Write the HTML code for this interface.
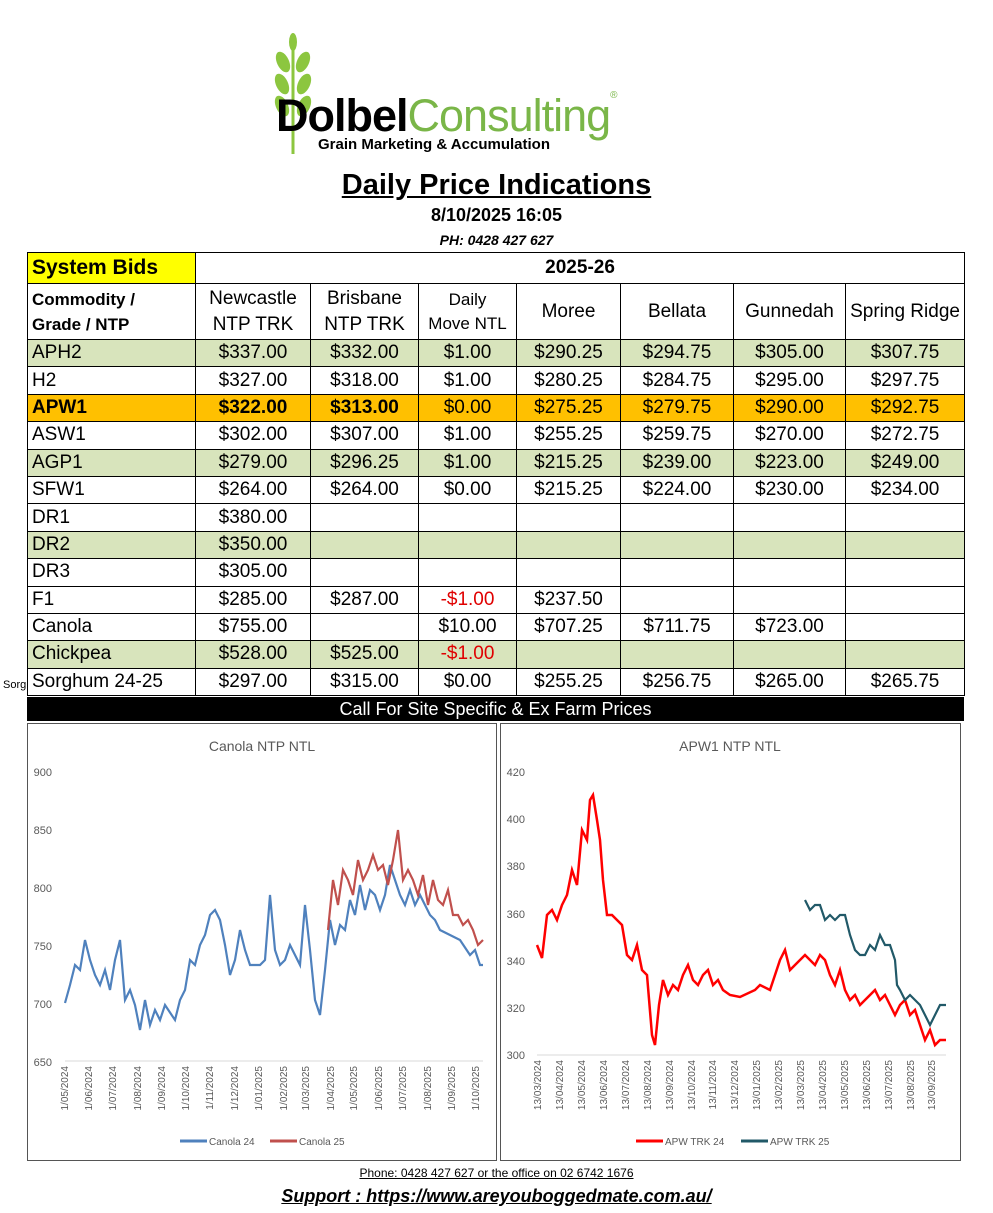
<!DOCTYPE html><html><head><meta charset="utf-8"><style>
body{margin:0;width:993px;height:1213px;background:#fff;font-family:"Liberation Sans",sans-serif;position:relative;overflow:hidden}
.a{position:absolute}
table{position:absolute;left:27px;top:252px;border-collapse:collapse;width:937px;table-layout:fixed}
td{border:1px solid #000;font-size:19px;text-align:center;padding:0;height:26.4px;white-space:nowrap;overflow:hidden}
td:first-child{text-align:left;padding-left:4px}
tr.g td{background:#d8e4bc}
tr.o td{background:#ffc000;font-weight:bold}
tr.o td:nth-child(n+4){font-weight:normal}
.r{color:#e00000}
svg text{font-family:"Liberation Sans",sans-serif}
</style></head><body>
<svg class="a" style="left:268px;top:32px" width="50" height="125"><line x1="25" y1="10" x2="25" y2="122" stroke="#8cc63f" stroke-width="3"/>
<g fill="#8cc63f"><ellipse cx="25" cy="10" rx="4" ry="9"/><ellipse cx="15" cy="30" rx="6" ry="11" transform="rotate(-25 15 30)"/><ellipse cx="35" cy="30" rx="6" ry="11" transform="rotate(25 35 30)"/><ellipse cx="14" cy="52" rx="6" ry="11" transform="rotate(-25 14 52)"/><ellipse cx="36" cy="52" rx="6" ry="11" transform="rotate(25 36 52)"/><ellipse cx="14" cy="74" rx="6" ry="11" transform="rotate(-25 14 74)"/><ellipse cx="36" cy="74" rx="6" ry="11" transform="rotate(25 36 74)"/></g></svg>
<div class="a" style="left:276px;top:90px;font-size:45px;letter-spacing:-1px"><b>Dolbel</b><span style="color:#7ab648">Consulting</span><span style="font-size:10px;color:#7ab648;vertical-align:top">®</span></div>
<div class="a" style="left:318px;top:136px;font-size:15px;font-weight:bold">Grain Marketing &amp; Accumulation</div>
<div class="a" style="left:0;width:993px;top:169px;text-align:center;font-size:29px;font-weight:bold"><u>Daily Price Indications</u></div>
<div class="a" style="left:0;width:993px;top:205px;text-align:center;font-size:18px;font-weight:bold">8/10/2025 16:05</div>
<div class="a" style="left:0;width:993px;top:232px;text-align:center;font-size:14px;font-weight:bold;font-style:italic">PH: 0428 427 627</div>
<table>
<colgroup><col style="width:168px"><col style="width:115px"><col style="width:108px"><col style="width:98px"><col style="width:104px"><col style="width:113px"><col style="width:112px"><col style="width:119px"></colgroup>
<tr><td style="background:#ff0;font-weight:bold;font-size:21px;height:30px">System Bids</td><td colspan="7" style="font-weight:bold">2025-26</td></tr>
<tr style="height:56px"><td style="font-weight:bold;font-size:17px;line-height:25px">Commodity /<br>Grade / NTP</td><td style="line-height:26px">Newcastle<br>NTP TRK</td><td style="line-height:26px">Brisbane<br>NTP TRK</td><td style="font-size:17px;line-height:24px">Daily<br>Move NTL</td><td>Moree</td><td>Bellata</td><td>Gunnedah</td><td>Spring Ridge</td></tr>
<tr class="g"><td>APH2</td><td>$337.00</td><td>$332.00</td><td>$1.00</td><td>$290.25</td><td>$294.75</td><td>$305.00</td><td>$307.75</td></tr>
<tr><td>H2</td><td>$327.00</td><td>$318.00</td><td>$1.00</td><td>$280.25</td><td>$284.75</td><td>$295.00</td><td>$297.75</td></tr>
<tr class="o"><td>APW1</td><td>$322.00</td><td>$313.00</td><td>$0.00</td><td>$275.25</td><td>$279.75</td><td>$290.00</td><td>$292.75</td></tr>
<tr><td>ASW1</td><td>$302.00</td><td>$307.00</td><td>$1.00</td><td>$255.25</td><td>$259.75</td><td>$270.00</td><td>$272.75</td></tr>
<tr class="g"><td>AGP1</td><td>$279.00</td><td>$296.25</td><td>$1.00</td><td>$215.25</td><td>$239.00</td><td>$223.00</td><td>$249.00</td></tr>
<tr><td>SFW1</td><td>$264.00</td><td>$264.00</td><td>$0.00</td><td>$215.25</td><td>$224.00</td><td>$230.00</td><td>$234.00</td></tr>
<tr><td>DR1</td><td>$380.00</td><td></td><td></td><td></td><td></td><td></td><td></td></tr>
<tr class="g"><td>DR2</td><td>$350.00</td><td></td><td></td><td></td><td></td><td></td><td></td></tr>
<tr><td>DR3</td><td>$305.00</td><td></td><td></td><td></td><td></td><td></td><td></td></tr>
<tr><td>F1</td><td>$285.00</td><td>$287.00</td><td class="r">-$1.00</td><td>$237.50</td><td></td><td></td><td></td></tr>
<tr><td>Canola</td><td>$755.00</td><td></td><td>$10.00</td><td>$707.25</td><td>$711.75</td><td>$723.00</td><td></td></tr>
<tr class="g"><td>Chickpea</td><td>$528.00</td><td>$525.00</td><td class="r">-$1.00</td><td></td><td></td><td></td><td></td></tr>
<tr><td>Sorghum 24-25</td><td>$297.00</td><td>$315.00</td><td>$0.00</td><td>$255.25</td><td>$256.75</td><td>$265.00</td><td>$265.75</td></tr>
</table>
<div class="a" style="left:3px;top:679px;font-size:11px">Sorg</div>
<div class="a" style="left:27px;top:697px;width:937px;height:24px;background:#000;color:#fff;text-align:center;font-size:18px;line-height:24px">Call For Site Specific &amp; Ex Farm Prices</div>
<svg class="a" style="left:0;top:0" width="993" height="1213" font-size="11" fill="#595959">
<rect x="27.5" y="723.5" width="469" height="437" fill="none" stroke="#555"/>
<rect x="500.5" y="723.5" width="460" height="437" fill="none" stroke="#555"/>
<text x="262" y="751" text-anchor="middle" font-size="14">Canola NTP NTL</text>
<text x="730" y="751" text-anchor="middle" font-size="14">APW1 NTP NTL</text>
<g stroke="#d9d9d9"><line x1="65" y1="1061" x2="483" y2="1061"/><line x1="537" y1="1055" x2="946" y2="1055"/></g>
<g text-anchor="end"><text x="52" y="776">900</text><text x="52" y="834">850</text><text x="52" y="892">800</text><text x="52" y="950">750</text><text x="52" y="1008">700</text><text x="52" y="1066">650</text>
<text x="525" y="776">420</text><text x="525" y="823">400</text><text x="525" y="870">380</text><text x="525" y="918">360</text><text x="525" y="965">340</text><text x="525" y="1012">320</text><text x="525" y="1059">300</text></g>
<polyline fill="none" stroke="#4f81bd" stroke-width="2.2" points="65,1003 70,985 75,965 80,970 85,940 90,960 95,975 100,985 105,970 110,990 115,960 120,940 125,1000 130,990 135,1005 140,1030 145,1000 150,1025 155,1010 160,1020 165,1005 175,1020 180,1000 185,990 190,960 195,965 200,945 205,935 210,915 215,910 220,920 225,945 230,975 235,960 240,930 245,950 250,965 260,965 265,960 270,895 275,950 280,965 285,960 290,945 300,965 305,905 310,950 315,1000 320,1015 325,970 330,920 335,945 340,925 345,930 350,900 355,915 360,885 365,910 370,890 375,895 380,910 385,895 390,865 395,880 400,895 405,905 410,890 415,905 420,895 430,915 435,920 440,930 450,935 460,940 470,955 475,950 480,965 483,965"/>
<polyline fill="none" stroke="#c0504d" stroke-width="2.2" points="328,930 333,880 338,905 343,870 348,880 353,895 358,860 363,880 368,870 373,855 378,870 383,865 388,885 393,860 398,830 403,880 408,870 413,880 418,895 423,875 428,905 433,880 438,900 443,905 448,890 453,915 458,915 463,925 468,920 473,930 478,945 483,940"/>
<polyline fill="none" stroke="#ff0000" stroke-width="2.5" points="537,945 542,958 547,915 552,910 557,920 562,905 567,895 572,870 577,885 582,830 587,840 590,800 593,795 597,820 600,840 603,880 607,915 612,915 617,920 622,925 627,955 632,960 637,945 642,970 647,975 652,1035 655,1045 659,1005 663,980 668,995 673,985 678,990 683,975 688,965 693,980 698,985 703,975 708,970 713,985 718,980 723,990 730,995 740,997 755,990 760,985 770,990 775,975 780,960 785,950 790,970 795,965 800,960 805,955 810,960 815,965 820,955 825,960 830,975 835,985 840,970 845,990 850,1000 855,995 860,1005 865,1000 870,995 875,990 880,1000 885,995 890,1005 895,1015 900,1005 905,1000 910,1015 915,1010 920,1025 925,1040 930,1030 935,1045 940,1040 946,1040"/>
<polyline fill="none" stroke="#215968" stroke-width="2.2" points="805,900 810,910 815,905 820,905 825,920 830,915 835,920 840,915 845,915 850,935 855,950 860,955 865,955 870,945 875,950 880,935 885,945 890,945 895,960 897,985 900,990 905,1000 910,995 915,1000 920,1005 925,1015 930,1025 935,1015 940,1005 946,1005"/>
<line x1="180" y1="1141" x2="207" y2="1141" stroke="#4f81bd" stroke-width="3"/><text x="209" y="1145" font-size="10">Canola 24</text>
<line x1="270" y1="1141" x2="297" y2="1141" stroke="#c0504d" stroke-width="3"/><text x="299" y="1145" font-size="10">Canola 25</text>
<line x1="636" y1="1141" x2="663" y2="1141" stroke="#ff0000" stroke-width="3"/><text x="665" y="1145" font-size="10">APW TRK 24</text>
<line x1="741" y1="1141" x2="768" y2="1141" stroke="#215968" stroke-width="3"/><text x="770" y="1145" font-size="10">APW TRK 25</text>
</svg>
<svg class="a" style="left:0;top:0" width="993" height="1213" font-size="10" fill="#595959" text-anchor="end">
<g>
<text transform="translate(68,1066) rotate(-90)">1/05/2024</text><text transform="translate(92,1066) rotate(-90)">1/06/2024</text><text transform="translate(116,1066) rotate(-90)">1/07/2024</text><text transform="translate(141,1066) rotate(-90)">1/08/2024</text><text transform="translate(165,1066) rotate(-90)">1/09/2024</text><text transform="translate(189,1066) rotate(-90)">1/10/2024</text><text transform="translate(213,1066) rotate(-90)">1/11/2024</text><text transform="translate(238,1066) rotate(-90)">1/12/2024</text><text transform="translate(262,1066) rotate(-90)">1/01/2025</text><text transform="translate(287,1066) rotate(-90)">1/02/2025</text><text transform="translate(309,1066) rotate(-90)">1/03/2025</text><text transform="translate(334,1066) rotate(-90)">1/04/2025</text><text transform="translate(357,1066) rotate(-90)">1/05/2025</text><text transform="translate(382,1066) rotate(-90)">1/06/2025</text><text transform="translate(406,1066) rotate(-90)">1/07/2025</text><text transform="translate(431,1066) rotate(-90)">1/08/2025</text><text transform="translate(455,1066) rotate(-90)">1/09/2025</text><text transform="translate(479,1066) rotate(-90)">1/10/2025</text>
</g>
<g>
<text transform="translate(541,1060) rotate(-90)">13/03/2024</text><text transform="translate(563,1060) rotate(-90)">13/04/2024</text><text transform="translate(585,1060) rotate(-90)">13/05/2024</text><text transform="translate(607,1060) rotate(-90)">13/06/2024</text><text transform="translate(629,1060) rotate(-90)">13/07/2024</text><text transform="translate(651,1060) rotate(-90)">13/08/2024</text><text transform="translate(673,1060) rotate(-90)">13/09/2024</text><text transform="translate(695,1060) rotate(-90)">13/10/2024</text><text transform="translate(716,1060) rotate(-90)">13/11/2024</text><text transform="translate(738,1060) rotate(-90)">13/12/2024</text><text transform="translate(760,1060) rotate(-90)">13/01/2025</text><text transform="translate(782,1060) rotate(-90)">13/02/2025</text><text transform="translate(804,1060) rotate(-90)">13/03/2025</text><text transform="translate(826,1060) rotate(-90)">13/04/2025</text><text transform="translate(848,1060) rotate(-90)">13/05/2025</text><text transform="translate(870,1060) rotate(-90)">13/06/2025</text><text transform="translate(892,1060) rotate(-90)">13/07/2025</text><text transform="translate(914,1060) rotate(-90)">13/08/2025</text><text transform="translate(935,1060) rotate(-90)">13/09/2025</text>
</g></svg>
<div class="a" style="left:0;width:993px;top:1166px;text-align:center;font-size:12px"><u>Phone: 0428 427 627 or the office on 02 6742 1676</u></div>
<div class="a" style="left:0;width:993px;top:1186px;text-align:center;font-size:18px;font-weight:bold;font-style:italic"><u>Support : https://www.areyouboggedmate.com.au/</u></div>
</body></html>
